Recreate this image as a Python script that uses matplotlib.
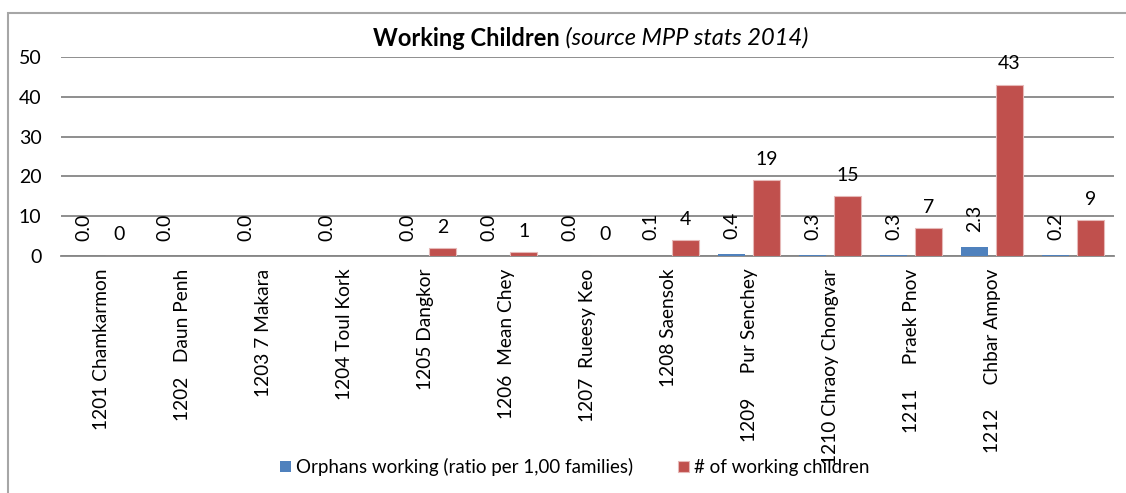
import numpy as np
import matplotlib.pyplot as plt
from matplotlib.patches import Rectangle

# data
districts = ['1201 Chamkarmon', '1202   Daun Penh', '1203 7 Makara', '1204 Toul Kork',
             '1205 Dangkor', '1206  Mean Chey', '1207  Rueesy Keo', '1208 Saensok',
             '1209     Pur Senchey', '1210 Chraoy Chongvar', '1211     Praek Pnov',
             '1212     Chbar Ampov', '']
orphans_ratio = [0.0, 0.0, 0.0, 0.0, 0.0, 0.0, 0.0, 0.1, 0.4, 0.3, 0.3, 2.3, 0.2]
working_children = [0, np.nan, np.nan, np.nan, 2, 1, 0, 4, 19, 15, 7, 43, 9]
yticks = [0, 10, 20, 30, 40, 50]

plt.rcParams['font.family'] = ['Lato', 'DejaVu Sans']
W, H = 1126, 493
fig = plt.figure(figsize=(W / 100, H / 100), dpi=100)
ax = fig.add_axes([61 / W, 1 - 256 / H, (1113.5 - 61) / W, (256 - 57) / H])

x = np.arange(len(districts))
bw = 0.333
off = 0.216
ax.bar(x - off, orphans_ratio, bw, color='#4F81BD',
       label='Orphans working (ratio per 1,00 families)', zorder=3)
ax.bar(x + off, working_children, bw, color='#C0504D', edgecolor='#E6B9B8',
       linewidth=0.8, label='# of working children', zorder=3)

# data labels
for xi, v in zip(x, orphans_ratio):
    ax.annotate(f'{v:.1f}', (xi - off, v), xytext=(0, 11), textcoords='offset points',
                ha='center', va='bottom', rotation=90, fontsize=14, color='#000000')
for xi, v in zip(x, working_children):
    if np.isnan(v):
        continue
    ax.annotate(f'{v:.0f}', (xi + off, v), xytext=(0, 9), textcoords='offset points',
                ha='center', va='bottom', fontsize=14, color='#000000')

ax.set_xlim(-0.5, len(districts) - 0.5)
ax.set_ylim(0, 50)
ax.set_yticks(yticks)
ax.set_xticks(x)
ax.set_xticklabels(districts, rotation=90, fontsize=13.8)
ax.tick_params(axis='x', length=0, pad=9)
ax.tick_params(axis='y', length=0, pad=14, labelsize=14)
ax.grid(axis='y', color='#868686', linewidth=1.3, zorder=0)
for s in ['left', 'right', 'top']:
    ax.spines[s].set_visible(False)
ax.spines['bottom'].set_color('#868686')
ax.spines['bottom'].set_linewidth(1.3)

# title: bold part + italic part, centred together
renderer = fig.canvas.get_renderer()
t1 = fig.text(0, 1 - 38 / H, 'Working Children', fontsize=17, fontweight='bold', va='center')
t2 = fig.text(0, 1 - 38 / H, ' (source MPP stats 2014)', fontsize=17, style='italic', va='center')
w1 = t1.get_window_extent(renderer).width
w2 = t2.get_window_extent(renderer).width
start = 591 - (w1 + w2) / 2
t1.set_x(start / W)
t2.set_x((start + w1) / W)

fig.legend(loc='center', bbox_to_anchor=(575 / W, 1 - 467 / H), ncol=2, frameon=False,
           fontsize=13.5, handlelength=0.55, handleheight=0.55, handletextpad=0.3,
           columnspacing=2.4)

# outer chart frame (runs off the right and bottom edge)
fig.patches.append(Rectangle((8 / W, -0.2), 1.5, 1.2 - 12.5 / H, transform=fig.transFigure,
                             fill=False, edgecolor='#A6A6A6', linewidth=1.5))

fig.savefig('out.png', dpi=100)
